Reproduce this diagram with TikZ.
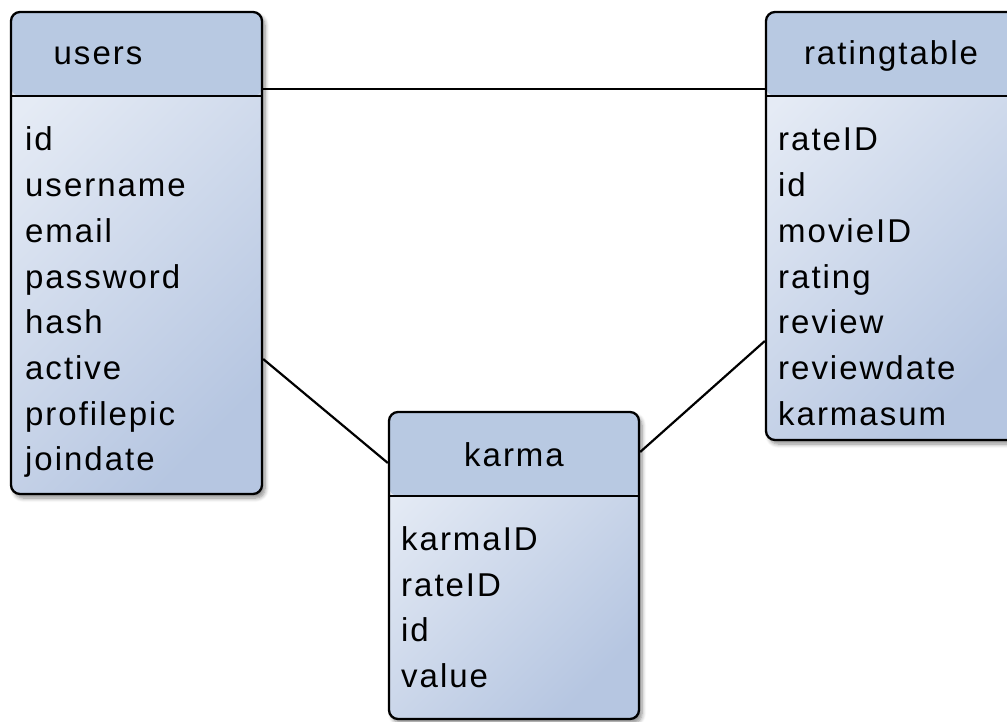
\documentclass[tikz,border=0pt]{standalone}
\usepackage{fontspec}
\setmainfont{Liberation Sans}
\usetikzlibrary{shadows.blur}
\definecolor{headc}{RGB}{184,201,226}
\definecolor{bodylight}{RGB}{229,235,245}
\definecolor{bodydark}{RGB}{182,198,225}
\newfontfamily\tabfont[LetterSpace=6]{Liberation Sans}
\tikzset{
  dbtable/.style={draw=black, line width=2.3pt, rounded corners=9pt,
    top color=bodylight, bottom color=bodydark, shading angle=45,
    blur shadow={shadow xshift=3pt, shadow yshift=-4pt, shadow opacity=45, shadow blur steps=6, shadow blur radius=4pt},
    inner sep=0pt,
    path picture={
      \fill[headc] (path picture bounding box.north west) rectangle ([yshift=-84pt]path picture bounding box.north east);
      \draw[line width=2.3pt] ([yshift=-84pt]path picture bounding box.north west) -- ([yshift=-84pt]path picture bounding box.north east);
    }},
  field/.style={anchor=base west, inner sep=0pt, font=\fontsize{33}{33}\tabfont},
  title/.style={anchor=base, inner sep=0pt, font=\fontsize{33}{33}\tabfont},
  link/.style={draw=black, line width=2.2pt}
}
\begin{document}
\begin{tikzpicture}[x=1pt,y=-1pt]
\useasboundingbox (0,0) rectangle (1007,722);
\begin{scope}
\clip (0,0) rectangle (1007,722);
% tables
\node[dbtable, minimum width=251pt, minimum height=482pt] (users) at (136.5,253) {};
\node[dbtable, minimum width=252pt, minimum height=428pt] (rating) at (892,226) {};
\node[dbtable, minimum width=250pt, minimum height=307pt] (karma) at (514,565.5) {};
% connectors
\draw[link] (users.east |- 0,89) -- (rating.west |- 0,89);
\draw[link] (users.east |- 0,359) -- (karma.west |- 0,463);
\draw[link] (karma.east |- 0,452) -- (rating.west |- 0,341);
\end{scope}
% titles
\node[title] (usersT) at (98,65) {users};
\node[title] (ratingT) at (891,65) {ratingtable};
\node[title] (karmaT) at (514,466) {karma};
% users fields
\node[field] (u1) at (25,151) {id};
\node[field] (u2) at (25,196.7) {username};
\node[field] (u3) at (25,242.4) {email};
\node[field] (u4) at (25,288.1) {password};
\node[field] (u5) at (25,333.8) {hash};
\node[field] (u6) at (25,379.5) {active};
\node[field] (u7) at (25,425.2) {profilepic};
\node[field] (u8) at (25,470.9) {joindate};
% ratingtable fields
\node[field] (r1) at (778,151) {rateID};
\node[field] (r2) at (778,196.7) {id};
\node[field] (r3) at (778,242.4) {movieID};
\node[field] (r4) at (778,288.1) {rating};
\node[field] (r5) at (778,333.8) {review};
\node[field] (r6) at (778,379.5) {reviewdate};
\node[field] (r7) at (778,425.2) {karmasum};
% karma fields
\node[field] (k1) at (401,550.5) {karmaID};
\node[field] (k2) at (401,596.2) {rateID};
\node[field] (k3) at (401,641.9) {id};
\node[field] (k4) at (401,687.6) {value};
\end{tikzpicture}
\end{document}
